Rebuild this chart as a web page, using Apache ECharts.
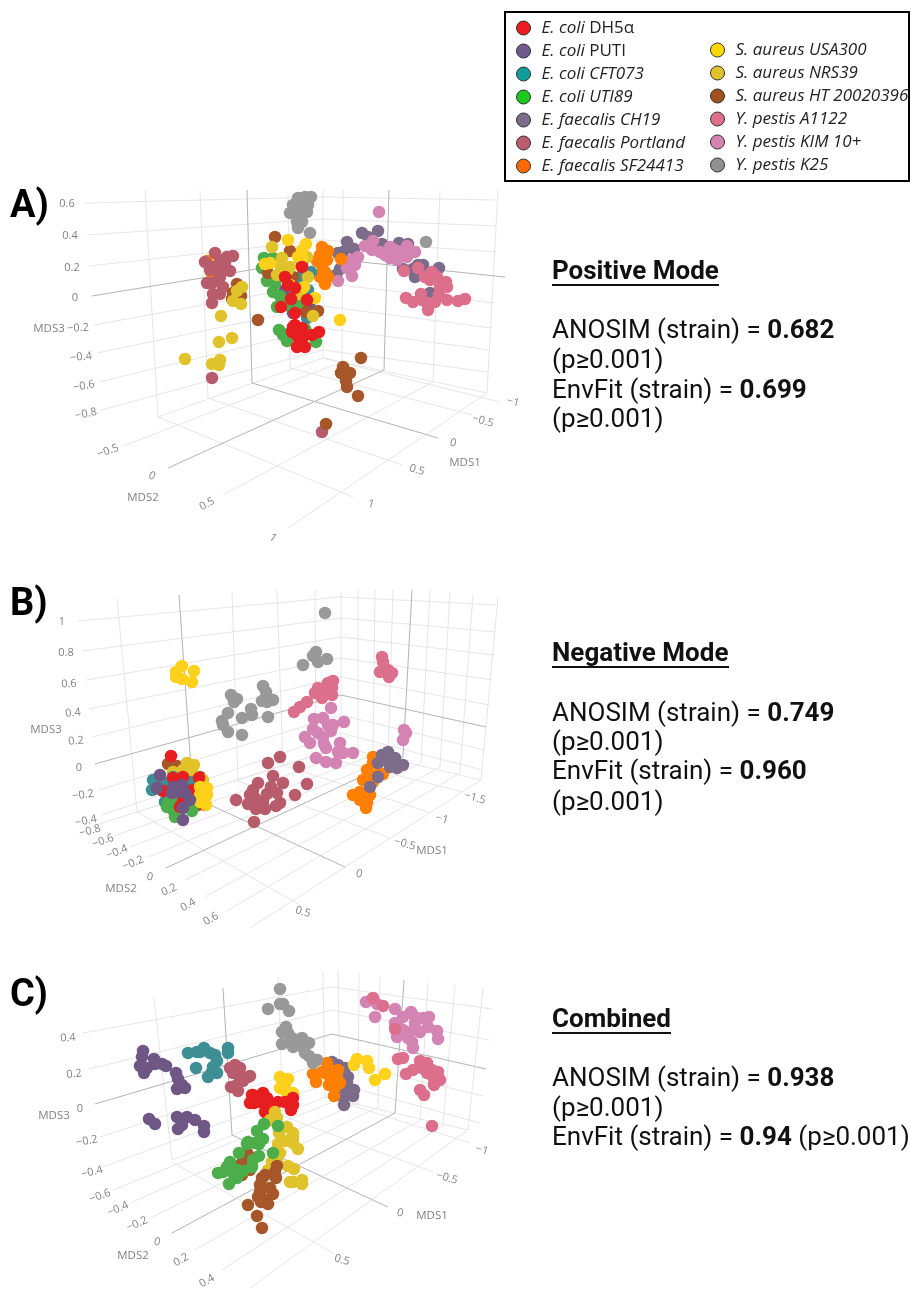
<!DOCTYPE html>
<html><head><meta charset="utf-8">
<style>html,body{margin:0;padding:0;background:#fff}#c{width:911px;height:1290px}</style>
<script src="https://cdn.jsdelivr.net/npm/echarts@6/dist/echarts.min.js"></script>
</head><body><div id="c"></div>
<script>
// ---------- categories ----------
const strainNames=['E. coli DH5α','E. coli PUTI','E. coli CFT073','E. coli UTI89','E. faecalis CH19','E. faecalis Portland','E. faecalis SF24413','S. aureus USA300','S. aureus NRS39','S. aureus HT 20020396','Y. pestis A1122','Y. pestis KIM 10+','Y. pestis K25'];
const plotColors=['#e71d20','#6e5785','#3e8e96','#4cae4a','#7d6b8a','#b85c6c','#ff7f00','#ffd11a','#e0c32a','#a65628','#dc6f8c','#d484b2','#999999'];
const legendColors=['#ed1c24','#6e5a8c','#129c9c','#1fc81f','#7d6b8a','#b85c6e','#ff6a00','#ffd800','#e0c32a','#a0521c','#dc6f8c','#d484b2','#919191'];
// ---------- panel A (projected values) ----------
const aDH5a=[[288,285],[295,288],[291,299],[307,300],[281,307],[295,313],[302,267],[285,277],[295,325],[292,332],[302,328],[303,337],[312,335],[319,332],[297,347],[305,347],[298,337],[293,327]];
const aPUTI=[[285,290],[310,302],[293,313],[297,293],[308,307]];
const aCFT=[[311,272],[300,277],[308,290],[303,297],[295,303],[307,318],[300,287]];
const aUTI=[[264,258],[273,258],[262,268],[267,281],[275,283],[273,292],[280,296],[287,305],[300,306],[279,330],[283,335],[290,333],[287,341],[305,329],[302,344],[316,342],[277,307]];
const aCH19=[[362,233],[368,237],[378,231],[347,242],[354,249],[343,252],[338,253],[340,269],[336,275],[399,243],[408,244],[382,244],[403,269],[413,269],[423,265],[439,268],[415,277],[430,293],[418,265]];
const aPort=[[215,253],[205,262],[227,257],[233,256],[220,260],[213,267],[222,270],[230,271],[220,277],[207,283],[212,283],[223,287],[213,294],[220,294],[212,303],[210,270],[225,263],[212,378],[322,432]];
const aSF=[[207,261],[211,272],[322,247],[328,251],[320,255],[327,260],[317,261],[322,265],[323,270],[320,277],[328,277],[325,284],[341,259],[320,260],[325,253],[323,260],[325,272]];
const aUSA=[[288,240],[306,244],[302,250],[298,257],[265,264],[304,287],[315,298],[340,320],[290,285],[270,263],[302,258]];
const aNRS=[[242,287],[237,291],[233,301],[241,304],[221,316],[232,338],[219,342],[185,359],[220,360],[212,364],[219,365],[272,247],[282,258],[280,265],[290,267],[277,275],[303,255],[308,277],[300,294],[313,316],[288,270],[307,257]];
const aHT=[[237,284],[233,293],[241,296],[232,299],[258,320],[343,367],[341,373],[350,373],[346,381],[347,387],[358,396],[326,424],[361,358],[275,237],[290,251],[302,264],[268,273],[293,277],[318,311],[306,312]];
const aA1122=[[404,271],[418,268],[432,272],[425,277],[437,277],[430,280],[446,282],[447,287],[440,287],[439,295],[421,294],[406,298],[413,302],[422,300],[435,302],[428,310],[447,300],[458,301],[465,299],[427,303]];
const aKIM=[[379,212],[365,246],[373,241],[372,250],[380,252],[390,247],[395,250],[390,258],[397,260],[407,246],[407,257],[415,252],[400,252],[385,255],[358,257],[352,260],[355,265],[347,268],[352,276],[338,281],[350,267]];
const aK25=[[298,198],[305,197],[311,197],[293,205],[308,205],[290,213],[295,212],[307,212],[302,215],[297,222],[302,222],[298,228],[310,233],[303,205],[426,242]];
// ---------- panel B ----------
const bDH5a=[[171,756],[173,778],[183,777],[199,778],[163,791],[183,802],[180,807],[205,805],[193,790]];
const bPUTI=[[160,775],[157,788],[173,787],[182,785],[177,792],[185,793],[190,800],[183,808],[183,820],[172,793]];
const bCFT=[[153,780],[152,790],[166,783],[190,782],[190,787],[165,802],[173,777],[155,789]];
const bUTI=[[175,800],[168,803],[177,807],[192,811],[175,817],[167,807],[173,810]];
const bCH19=[[388,752],[382,755],[395,758],[378,763],[387,760],[403,765],[397,768],[390,767],[378,777],[370,787]];
const bPort=[[280,757],[268,763],[299,767],[273,776],[283,783],[307,784],[258,783],[271,787],[253,790],[250,795],[267,794],[277,793],[295,795],[236,800],[255,798],[248,804],[263,802],[280,803],[276,806],[256,809],[265,809],[254,822]];
const bSF=[[373,757],[373,763],[367,770],[383,774],[363,780],[373,782],[360,792],[353,795],[370,795],[360,800],[367,803],[366,808],[377,775],[370,775]];
const bUSA=[[182,666],[176,672],[194,671],[176,677],[182,679],[192,682],[200,787],[207,788],[200,795],[207,795],[200,802],[206,805],[203,791]];
const bNRS=[[187,763],[194,765],[192,772],[173,772],[203,780],[183,770]];
const bHT=[[168,764],[177,766],[182,768],[165,783],[193,793],[198,805],[200,777]];
const bA1122=[[382,657],[383,662],[380,672],[388,670],[392,673],[389,677],[333,681],[328,683],[332,688],[318,688],[315,693],[323,693],[332,695],[322,698],[307,702],[300,707],[294,712],[327,690]];
const bKIM=[[331,708],[314,719],[323,718],[344,722],[328,725],[333,725],[331,731],[313,729],[318,733],[323,737],[305,737],[310,743],[324,744],[326,748],[340,743],[338,752],[343,753],[353,753],[316,758],[326,762],[336,763],[404,730],[406,733],[403,740]];
const bK25=[[231,695],[237,699],[234,702],[228,713],[222,721],[223,725],[228,732],[242,735],[242,718],[251,709],[252,715],[263,686],[266,692],[262,701],[267,702],[268,717],[273,700],[325,613],[316,652],[313,656],[327,659],[318,662],[303,665]];
// ---------- panel C ----------
const cDH5a=[[263,1093],[253,1095],[254,1103],[263,1102],[258,1098],[252,1095],[267,1098],[250,1103],[260,1102],[270,1103],[278,1102],[285,1102],[293,1098],[291,1110],[265,1112],[270,1105],[293,1105]];
const cPUTI=[[143,1051],[142,1057],[154,1059],[140,1066],[147,1068],[155,1064],[162,1064],[166,1066],[144,1073],[176,1073],[178,1079],[182,1085],[177,1089],[185,1088],[149,1119],[155,1124],[177,1117],[187,1117],[195,1120],[182,1125],[204,1126],[178,1129],[204,1132]];
const cCFT=[[188,1053],[197,1052],[204,1048],[210,1053],[215,1055],[217,1061],[228,1048],[228,1053],[196,1068],[213,1067],[212,1072],[217,1073],[208,1077],[200,1052]];
const cUTI=[[264,1124],[278,1126],[257,1131],[263,1139],[248,1142],[255,1143],[247,1144],[259,1144],[239,1153],[259,1156],[273,1153],[253,1160],[230,1162],[227,1167],[252,1167],[218,1173],[223,1172],[237,1170],[243,1171],[233,1173],[237,1178],[229,1184]];
const cCH19=[[332,1062],[338,1065],[345,1068],[348,1077],[347,1083],[354,1090],[345,1092],[353,1096],[348,1095],[344,1105],[333,1085],[340,1095]];
const cPort=[[235,1065],[230,1068],[240,1068],[233,1073],[240,1078],[248,1077],[237,1085],[231,1087],[238,1091],[243,1081],[250,1076]];
const cSF=[[317,1060],[327,1063],[313,1074],[322,1072],[328,1068],[338,1070],[330,1077],[337,1078],[316,1082],[329,1085],[340,1083],[335,1088],[334,1096],[325,1073]];
const cUSA=[[280,1077],[288,1079],[285,1085],[280,1088],[287,1093],[293,1093],[283,1082],[357,1059],[367,1061],[354,1065],[369,1068],[385,1074],[375,1080]];
const cNRS=[[275,1112],[270,1120],[277,1118],[287,1127],[279,1133],[293,1133],[293,1138],[293,1143],[285,1141],[278,1144],[298,1149],[280,1153],[277,1160],[272,1162],[288,1166],[294,1169],[268,1170],[290,1182],[302,1180],[302,1184],[293,1182]];
const cHT=[[247,1153],[250,1157],[242,1163],[277,1166],[275,1172],[276,1178],[265,1175],[262,1178],[260,1185],[270,1188],[273,1194],[260,1192],[258,1197],[265,1200],[261,1202],[268,1204],[248,1205],[257,1216],[262,1228],[242,1175],[250,1170]];
const cA1122=[[373,998],[383,1006],[395,1029],[398,1059],[403,1058],[420,1061],[427,1063],[413,1070],[406,1074],[422,1068],[432,1070],[438,1072],[427,1073],[440,1080],[434,1085],[420,1090],[424,1095],[432,1126],[433,1077]];
const cKIM=[[366,1002],[377,1004],[375,1017],[395,1009],[403,1017],[411,1012],[415,1017],[395,1023],[398,1027],[415,1023],[423,1018],[429,1017],[428,1027],[437,1031],[438,1039],[403,1030],[410,1032],[420,1032],[397,1037],[408,1038],[413,1048],[412,1042]];
const cK25=[[268,1009],[280,989],[280,1004],[283,1004],[289,1011],[286,1027],[282,1032],[288,1033],[292,1038],[302,1038],[309,1043],[282,1044],[293,1047],[303,1048],[305,1053],[309,1056],[313,1063],[317,1060],[297,1043]];
// series lists in stacking order (bottom first): index into strainNames
const aOrder=[[12,aK25],[4,aCH19],[11,aKIM],[10,aA1122],[6,aSF],[5,aPort],[2,aCFT],[1,aPUTI],[3,aUTI],[9,aHT],[8,aNRS],[7,aUSA],[0,aDH5a]];
const bOrder=[[12,bK25],[5,bPort],[10,bA1122],[11,bKIM],[6,bSF],[4,bCH19],[9,bHT],[8,bNRS],[2,bCFT],[3,bUTI],[0,bDH5a],[7,bUSA],[1,bPUTI]];
const cOrder=[[4,cCH19],[6,cSF],[12,cK25],[11,cKIM],[10,cA1122],[1,cPUTI],[2,cCFT],[5,cPort],[7,cUSA],[0,cDH5a],[8,cNRS],[9,cHT],[3,cUTI]];
// ---------- wireframe ----------
const aLight=[[[84,203],[323,197],[498,200]],[[87,235],[323,219],[497,226]],[[89,266],[323,240],[496,252]],[[94,325],[323,283],[494,303]],[[97,353],[323,306],[492,328]],[[99,382],[323,328],[490,350]],[[101,410],[323,350],[488,372]],
 [[145,190],[158,417]],[[200,190],[208,398]],[[288,195],[290,368]],[[323,190],[323,358]],[[343,190],[342,362]],[[440,190],[433,382]],[[498,190],[487,393]],
 [[158,417],[323,358],[487,393]],[[158,417],[353,497]],[[208,398],[402,465]],[[290,368],[473,415]],[[323,358],[500,402]],[[487,393],[288,528]],[[433,382],[223,495]],[[342,362],[123,446]]];
const aDark=[[[92,296],[323,258],[505,277]],[[247,190],[252,383]],[[389,190],[384,370]],[[252,383],[438,438]],[[384,370],[168,468]]];
const bLight=[[[78,621],[341,597],[498,605]],[[82,651],[341,618],[496,632]],[[86,680],[341,637],[494,655]],[[89,709],[341,658],[492,680]],[[92,737],[341,677],[489,705]],[[99,790],[341,715],[484,750]],[[102,815],[341,733],[482,770]],
 [[117,598],[137,812]],[[232,592],[238,781]],[[277,590],[283,765]],[[315,590],[316,755]],[[341,592],[341,747]],[[358,590],[358,750]],[[375,590],[373,755]],[[393,590],[388,759]],[[430,590],[421,763]],[[450,592],[440,767]],[[473,595],[460,773]],[[498,597],[481,780]],
 [[137,812],[341,747],[481,780]],[[99,824],[341,747]],[[114,836],[358,750]],[[130,847],[373,755]],[[148,857],[388,759]],[[185,880],[421,763]],[[205,897],[440,767]],[[227,911],[460,773]],[[250,928],[481,780]],
 [[137,812],[300,905]],[[238,781],[390,838]],[[283,765],[428,812]],[[316,755],[463,792]]];
const bDark=[[[95,764],[341,695],[486,727]],[[179,595],[193,797]],[[412,590],[403,757]],[[193,797],[345,867]],[[403,757],[166,868]]];
const cLight=[[[83,1033],[332,987],[492,1009]],[[89,1069],[332,1010],[489,1040]],[[100,1137],[332,1060],[483,1096]],[[103,1167],[332,1082],[480,1123]],
 [[154,998],[172,1160]],[[278,978],[283,1116]],[[323,972],[325,1097]],[[338,970],[340,1099]],[[359,973],[358,1103]],[[380,977],[378,1107]],[[428,983],[420,1120]],[[455,985],[443,1125]],[[483,988],[468,1130]],
 [[172,1160],[325,1097],[468,1130]],[[113,1190],[340,1099]],[[130,1203],[358,1103]],[[150,1218],[378,1107]],[[195,1250],[420,1120]],[[222,1270],[443,1125]],[[250,1288],[468,1130]],
 [[172,1162],[333,1253]],[[283,1116],[433,1172]],[[325,1097],[470,1143]]];
const cDark=[[[95,1104],[332,1034],[486,1069]],[[223,988],[232,1135]],[[404,980],[395,1113]],[[232,1135],[388,1207]],[[395,1113],[172,1233]]];
// ---------- tick labels: x, y, text, rotation ----------
const aTicks=[[67,204,'0.6',0],[70,236,'0.4',0],[72,268,'0.2',0],[75,298,'0',0],[78,328,'−0.2',3],[81,357,'−0.4',6],[84,386,'−0.6',10],[86,414,'−0.8',12],[108,451,'−0.5',20],[152,476,'0',-25],[207,504,'0.5',28],[273,538,'1',-35],[513,402,'−1',-15],[483,421,'−0.5',-15],[453,443,'0',-15],[417,470,'0.5',-15],[371,504,'1',-15]];
const bTicks=[[62,622,'1',0],[66,653,'0.8',0],[69,684,'0.6',3],[73,713,'0.4',5],[76,741,'0.2',5],[79,768,'0',0],[83,795,'−0.2',8],[86,821,'−0.4',12],[90,831,'−0.8',15],[103,841,'−0.6',20],[117,852,'−0.4',22],[133,863,'−0.2',22],[150,877,'0',-10],[169,890,'0.2',25],[188,905,'0.4',28],[211,919,'0.6',30],[475,798,'−1.5',-15],[442,819,'−1',-15],[405,844,'−0.5',-15],[359,874,'0',-15],[303,912,'0.5',-15]];
const cTicks=[[68,1038,'0.4',3],[74,1074,'0.2',6],[80,1109,'0',0],[87,1141,'−0.2',10],[92,1172,'−0.4',14],[100,1196,'−0.6',20],[118,1209,'−0.4',24],[137,1224,'−0.2',24],[157,1242,'0',-15],[181,1260,'0.2',28],[207,1281,'0.4',30],[482,1150,'−1',-15],[447,1178,'−0.5',-15],[400,1213,'0',-15],[342,1260,'0.5',-15]];
const aTitles=[[49,329,'MDS3'],[143,498,'MDS2'],[465,463,'MDS1']];
const bTitles=[[46,730,'MDS3'],[121,889,'MDS2'],[432,851,'MDS1']];
const cTitles=[[54,1116,'MDS3'],[133,1256,'MDS2'],[432,1216,'MDS1']];
// ---------- right-hand statistics ----------
const panelLetters=[['A)',10,207],['B)',10,605],['C)',10,996]];
const statBlocks=[
 {head:'Positive Mode',y:272,w:167,rows:[[331,'ANOSIM (strain) = {b|0.682}'],[361,'(p≥0.001)'],[391,'EnvFit (strain) = {b|0.699}'],[420,'(p≥0.001)']]},
 {head:'Negative Mode',y:654,w:177,rows:[[714,'ANOSIM (strain) = {b|0.749}'],[743,'(p≥0.001)'],[772,'EnvFit (strain) = {b|0.960}'],[803,'(p≥0.001)']]},
 {head:'Combined',y:1020,w:119,rows:[[1079,'ANOSIM (strain) = {b|0.938}'],[1109,'(p≥0.001)'],[1138,'EnvFit (strain) = {b|0.94} (p≥0.001)']]}
];
// ---------- assemble ----------
const panels=[
 {top:170,bottom:565,order:aOrder,light:aLight,dark:aDark,ticks:aTicks,titles:aTitles},
 {top:570,bottom:940,order:bOrder,light:bLight,dark:bDark,ticks:bTicks,titles:bTitles},
 {top:950,bottom:1290,order:cOrder,light:cLight,dark:cDark,ticks:cTicks,titles:cTitles}];
const tickFont='"Open Sans",sans-serif';
const grid=[],xAxis=[],yAxis=[],series=[];
panels.forEach((p,i)=>{
 grid.push({left:0,top:p.top,width:530,height:p.bottom-p.top,show:false});
 xAxis.push({type:'value',gridIndex:i,min:0,max:530,show:false});
 yAxis.push({type:'value',gridIndex:i,min:p.top,max:p.bottom,inverse:true,show:false});
 const wire=(d,col,w)=>({type:'lines',coordinateSystem:'cartesian2d',polyline:true,xAxisIndex:i,yAxisIndex:i,silent:true,z:1,clip:false,
   lineStyle:{color:col,width:w,opacity:1},data:d.map(c=>({coords:c}))});
 series.push(wire(p.light,'#e6e6e6',1),wire(p.dark,'#b4b4b4',1));
 const text=(d,size)=>({type:'scatter',xAxisIndex:i,yAxisIndex:i,symbolSize:1,silent:true,z:1,clip:false,itemStyle:{color:'rgba(0,0,0,0)'},
   data:d.map(t=>({value:[t[0],t[1]],label:{show:true,position:'inside',formatter:t[2],rotate:t[3]||0,fontSize:size,color:'#5f5f5f',fontFamily:tickFont}}))});
 series.push(text(p.ticks,11),text(p.titles,11.5));
 p.order.forEach(o=>series.push({type:'scatter',name:strainNames[o[0]],xAxisIndex:i,yAxisIndex:i,symbolSize:12.5,z:2,silent:true,clip:false,
   itemStyle:{color:plotColors[o[0]],opacity:1},data:o[1]}));
});
const legendFont='"Open Sans",sans-serif';
const legendRich={i:{fontStyle:'italic',fontSize:17,fontFamily:legendFont,color:'#222'},n:{fontSize:17,fontFamily:legendFont,color:'#222'}};
const legendFmt=n=>{ if(n==='E. coli DH5α')return '{i|E. coli} {n|DH5α}'; if(n==='E. coli PUTI')return '{i|E. coli} {n|PUTI}'; return '{i|'+n+'}'; };
const mkLegend=(idx,left,top)=>({show:true,orient:'vertical',left,top,padding:0,itemWidth:26,itemHeight:14,itemGap:6,icon:'circle',selectedMode:false,
  formatter:legendFmt,textStyle:{rich:legendRich,fontFamily:legendFont,fontSize:17},z:10,
  data:idx.map(k=>({name:strainNames[k],icon:'circle',itemStyle:{color:legendColors[k],borderColor:'#333',borderWidth:1,opacity:1}}))});
const graphic=[{type:'rect',shape:{x:505,y:12,width:404,height:169},style:{fill:'#fff',stroke:'#000',lineWidth:2},z:0}];
panelLetters.forEach(l=>graphic.push({type:'text',x:l[1],y:l[2],style:{text:l[0],font:'bold 38px Roboto',fill:'#000',textVerticalAlign:'middle'},z:5}));
statBlocks.forEach(b=>{
 graphic.push({type:'text',x:552,y:b.y,style:{text:b.head,font:'bold 26px Roboto',fill:'#111',textVerticalAlign:'middle'},z:5});
 graphic.push({type:'line',shape:{x1:552,y1:b.y+13,x2:552+b.w,y2:b.y+13},style:{stroke:'#111',lineWidth:2},z:5});
 b.rows.forEach(r=>graphic.push({type:'text',x:552,y:r[0],style:{text:r[1],font:'26px Roboto',fill:'#111',textVerticalAlign:'middle',
   rich:{b:{font:'bold 26px Roboto',fill:'#111'}}},z:5}));
});
const chart=echarts.init(document.getElementById('c'),null,{renderer:'canvas'});
chart.setOption({animation:false,backgroundColor:'#fff',grid,xAxis,yAxis,series,graphic,
 legend:[mkLegend([0,1,2,3,4,5,6],516,19.5),mkLegend([7,8,9,10,11,12],710,41.5)]});
</script></body></html>
